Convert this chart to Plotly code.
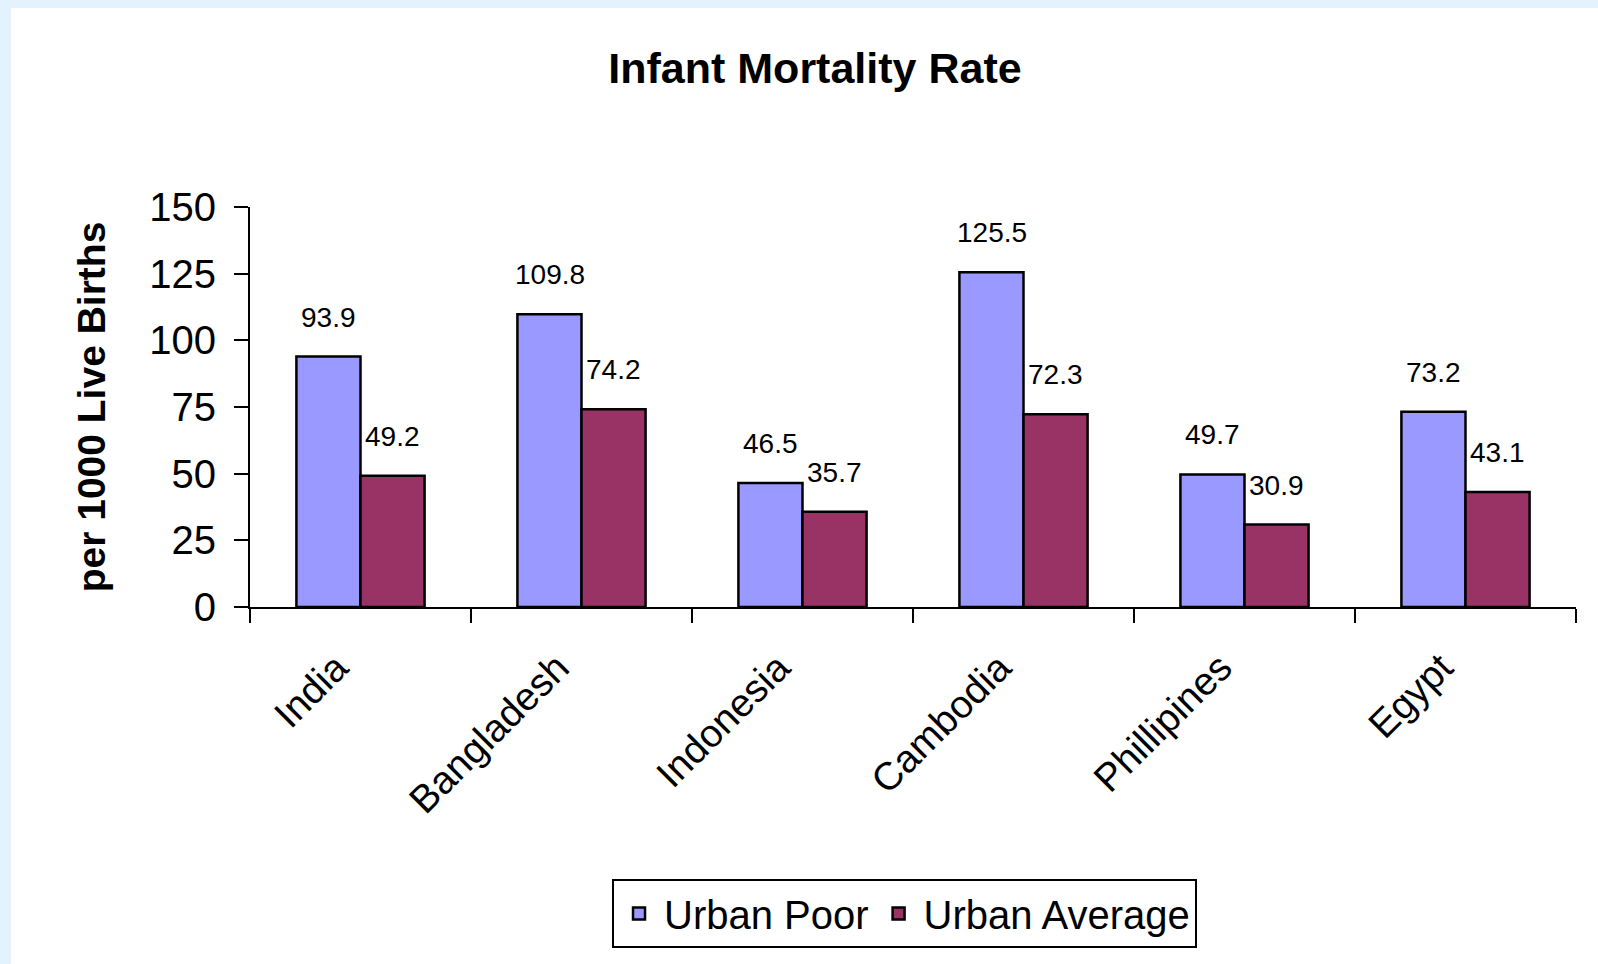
import plotly.graph_objects as go

# data
pays = ['India', 'Bangladesh', 'Indonesia', 'Cambodia', 'Phillipines', 'Egypt']
urban_poor = [93.9, 109.8, 46.5, 125.5, 49.7, 73.2]
urban_moyenne = [49.2, 74.2, 35.7, 72.3, 30.9, 43.1]
graduations = [0, 25, 50, 75, 100, 125, 150]

police = 'Liberation Sans, Arial, sans-serif'

fig = go.Figure()
fig.add_trace(go.Bar(x=pays, y=urban_poor, name='Urban Poor',
                     marker=dict(color='#9999FF', line=dict(color='black', width=2.5))))
fig.add_trace(go.Bar(x=pays, y=urban_moyenne, name='Urban Average',
                     marker=dict(color='#993366', line=dict(color='black', width=2.5))))

# etiquettes de valeurs au-dessus des barres
for i, p in enumerate(pays):
    for val, dx in ((urban_poor[i], -32), (urban_moyenne[i], 32)):
        fig.add_annotation(x=p, y=val, text=f'{val:.1f}', showarrow=False,
                           xshift=dx, yshift=22, yanchor='bottom',
                           font=dict(family=police, size=28, color='black'))

# fond blanc avec bord bleu clair
fig.add_shape(type='rect', xref='paper', yref='paper', x0=-0.1802, x1=1.1, y0=-1.0, y1=1.4975,
              fillcolor='white', line=dict(width=0), layer='below')

fig.update_layout(
    width=1598, height=964,
    paper_bgcolor='#E3F2FC', plot_bgcolor='rgba(0,0,0,0)',
    margin=dict(l=250, r=22, t=207, b=357),
    barmode='group', bargap=0.42, bargroupgap=0,
    font=dict(family=police, color='black'),
    title=dict(text='<b>Infant Mortality Rate</b>', x=0.51, xref='container', xanchor='center',
               y=1 - 68 / 964, yanchor='middle', font=dict(size=43, family=police)),
    showlegend=True,
    legend=dict(orientation='h', x=0.4936, xanchor='center', y=-0.68, yanchor='top',
                bordercolor='black', borderwidth=2, bgcolor='white',
                font=dict(size=40, family=police), itemwidth=40),
)

fig.update_xaxes(showline=True, linecolor='black', linewidth=2, showgrid=False,
                 ticks='outside', ticklen=14, tickwidth=2, tickcolor='black',
                 tickson='boundaries', tickangle=-45,
                 ticklabelstandoff=20, ticklabelshift=-24,
                 tickfont=dict(size=39, family=police))
fig.update_yaxes(range=[0, 150], tickvals=graduations, showline=True, linecolor='black',
                 linewidth=2, showgrid=False, zeroline=False,
                 ticks='outside', ticklen=14, tickwidth=2, tickcolor='black',
                 ticklabelstandoff=10,
                 tickfont=dict(size=40, family=police),
                 title=dict(text='<b>per 1000 Live Births</b>', standoff=32,
                            font=dict(size=39, family=police)))

# pas de marge autour de la page
fig.write_html('out.html', config={'displayModeBar': False},
               post_script="document.body.style.margin='0';")
